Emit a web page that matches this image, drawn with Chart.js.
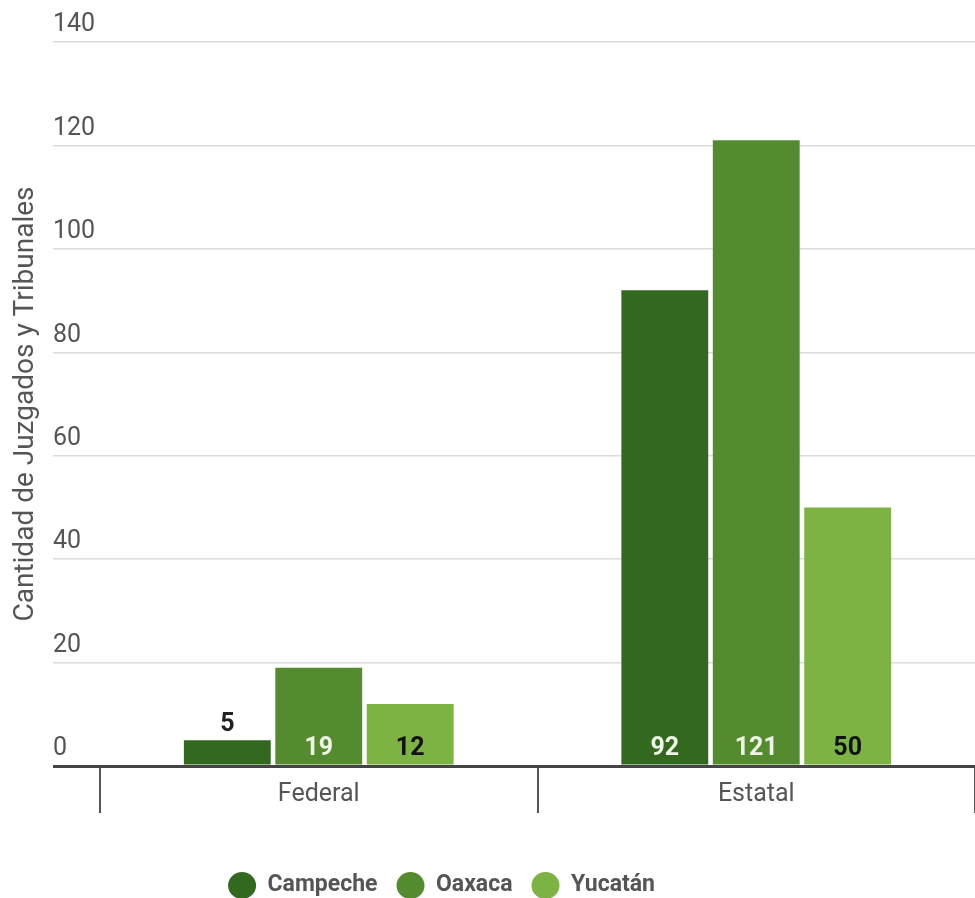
<!DOCTYPE html>
<html>
<head>
<meta charset="utf-8">
<script src="https://cdn.jsdelivr.net/npm/chart.js@4.4.0/dist/chart.umd.min.js"></script>
<style>
  html, body { margin: 0; padding: 0; background: #fff; }
  #wrap { width: 975px; height: 898px; }
</style>
</head>
<body>
<div id="wrap"><canvas id="chart" width="975" height="898"></canvas></div>
<script>
// Datos
const categorias = ['Federal', 'Estatal'];
const campeche = [5, 92];
const oaxaca = [19, 121];
const yucatan = [12, 50];
const tituloEjeY = 'Cantidad de Juzgados y Tribunales';

const FUENTE = 'Roboto, "Noto Sans", sans-serif';

// Etiquetas de valor dentro de la barra (o encima si la barra es muy baja)
const etiquetasValor = {
  id: 'etiquetasValor',
  afterDatasetsDraw(chart) {
    const ctx = chart.ctx;
    ctx.save();
    ctx.font = 'bold 25px ' + FUENTE;
    ctx.textAlign = 'center';
    ctx.textBaseline = 'middle';
    chart.data.datasets.forEach((ds, i) => {
      const meta = chart.getDatasetMeta(i);
      meta.data.forEach((bar, j) => {
        const alto = bar.base - bar.y;
        if (alto < 40) {
          ctx.fillStyle = '#222';
          ctx.fillText(ds.data[j], bar.x, bar.y - 15);
        } else {
          ctx.fillStyle = ds.colorEtiqueta;
          ctx.fillText(ds.data[j], bar.x, bar.base - 16);
        }
      });
    });
    ctx.restore();
  }
};

// La leyenda del original queda un poco a la izquierda del centro
const moverLeyenda = {
  id: 'moverLeyenda',
  afterLayout(chart) {
    if (chart.legend) {
      chart.legend.left -= 46;
      chart.legend.right -= 46;
    }
  }
};

new Chart(document.getElementById('chart'), {
  type: 'bar',
  data: {
    labels: categorias,
    datasets: [
      { label: 'Campeche', data: campeche, backgroundColor: '#33691E', colorEtiqueta: '#eef5e6' },
      { label: 'Oaxaca', data: oaxaca, backgroundColor: '#558B2F', colorEtiqueta: '#eef5e6' },
      { label: 'Yucatán', data: yucatan, backgroundColor: '#7CB342', colorEtiqueta: '#111' }
    ]
  },
  options: {
    responsive: false,
    animation: false,
    layout: { padding: { top: 42, right: 0, left: 0, bottom: -9 } },
    datasets: {
      bar: { categoryPercentage: 0.627, barPercentage: 0.95 }
    },
    plugins: {
      tooltip: { enabled: false },
      legend: {
        position: 'bottom',
        labels: {
          usePointStyle: true,
          pointStyle: 'circle',
          pointStyleWidth: 28,
          boxWidth: 28,
          boxHeight: 19,
          padding: 19,
          color: '#555',
          font: { family: FUENTE, size: 23, weight: 'bold' }
        }
      }
    },
    scales: {
      x: {
        grid: {
          drawOnChartArea: false,
          drawTicks: true,
          tickLength: 47,
          color: '#555',
          lineWidth: 2
        },
        border: { display: false },
        ticks: {
          padding: -33,
          color: '#555',
          font: { family: FUENTE, size: 25 }
        },
        afterFit: s => { s.height = 89; }
      },
      y: {
        min: 0,
        max: 140,
        grid: {
          tickLength: 47,
          color: c => c.tick && c.tick.value === 0 ? '#444' : '#dcdcdc',
          lineWidth: c => c.tick && c.tick.value === 0 ? 3 : 1.5
        },
        border: { display: false },
        ticks: {
          stepSize: 20,
          mirror: true,
          padding: -47,
          labelOffset: -17,
          color: '#555',
          font: { family: FUENTE, size: 25 }
        },
        title: {
          display: true,
          text: tituloEjeY,
          color: '#555',
          padding: { top: 9, bottom: 0 },
          font: { family: FUENTE, size: 28 }
        },
        afterFit: s => { s.width = 100; }
      }
    }
  },
  plugins: [etiquetasValor, moverLeyenda]
});
</script>
</body>
</html>
